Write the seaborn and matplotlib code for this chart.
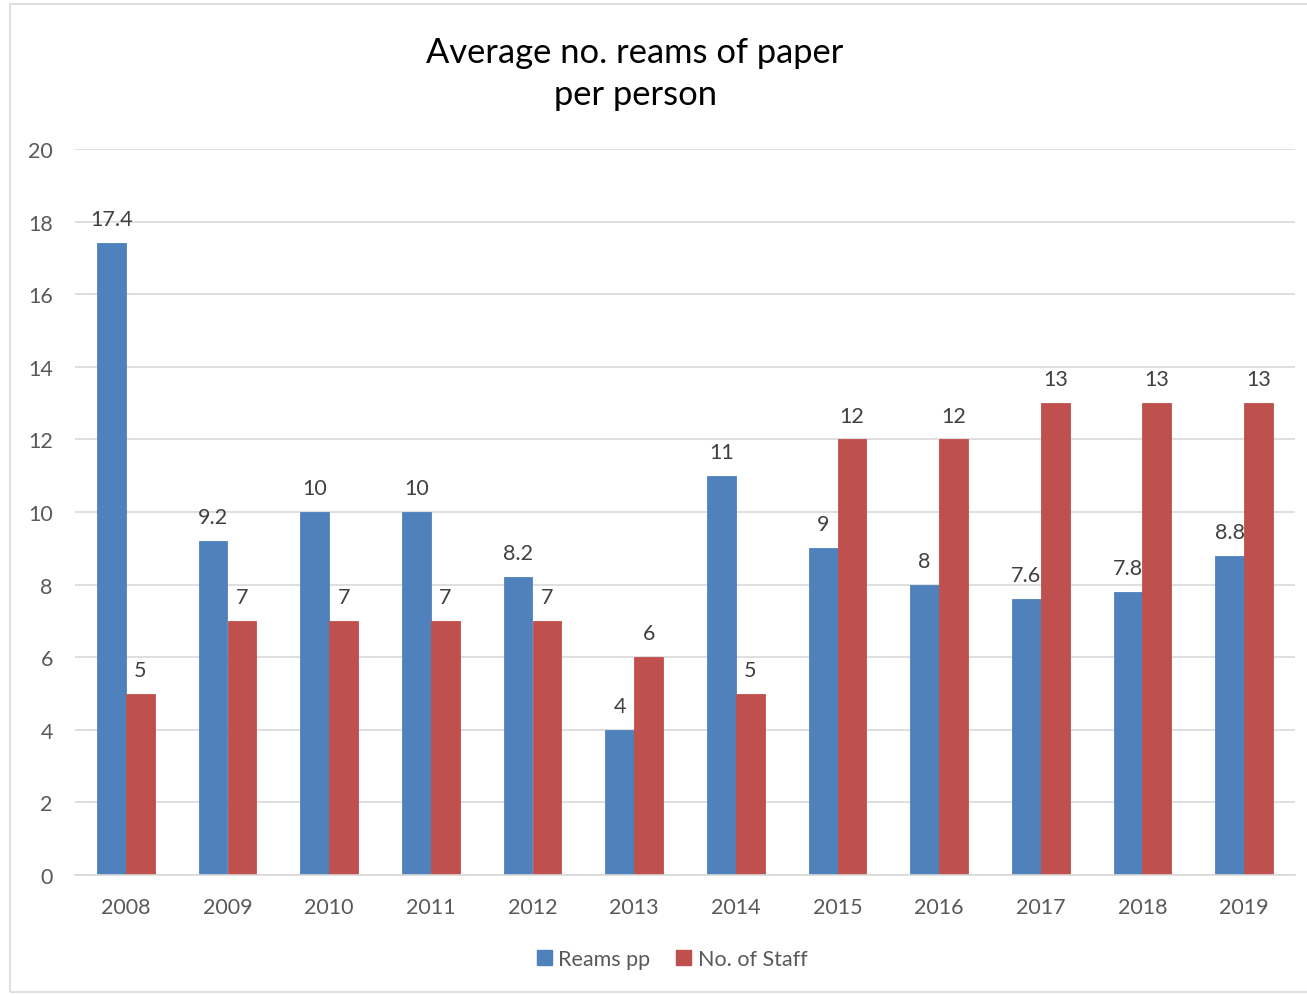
import pandas as pd
import numpy as np
import seaborn as sns
import matplotlib.pyplot as plt

# Chart data
years = ['2008', '2009', '2010', '2011', '2012', '2013',
         '2014', '2015', '2016', '2017', '2018', '2019']
reams_pp = [17.4, 9.2, 10, 10, 8.2, 4, 11, 9, 8, 7.6, 7.8, 8.8]
staff = [5, 7, 7, 7, 7, 6, 5, 12, 12, 13, 13, 13]
series = ['Reams pp', 'No. of Staff']
colors = ['#4F81BD', '#C0504D']

df = pd.DataFrame({
    'Year': years * 2,
    'Value': reams_pp + staff,
    'Series': [series[0]] * len(years) + [series[1]] * len(years),
})

sns.set_style('white')
plt.rcParams['font.family'] = ['Lato', 'DejaVu Sans']
text_color = '#595959'
grid_color = '#D9D9D9'
fs = 15.5

fig = plt.figure(figsize=(13.07, 9.95), dpi=100)
ax = fig.add_axes([75 / 1307, 1 - 876 / 995, 1220 / 1307, 726 / 995])

sns.barplot(data=df, x='Year', y='Value', hue='Series', hue_order=series,
            palette=colors, width=0.57, saturation=1, ax=ax, legend=False)

# Data labels, and close the hairline gap between paired bars
for container, c in zip(ax.containers, colors):
    for bar in container:
        bar.set_edgecolor(c)
        bar.set_linewidth(0.6)
    labels = [f'{v:g}' for v in container.datavalues]
    ax.bar_label(container, labels=labels, padding=10, fontsize=fs,
                 color='#404040')

ax.set_ylim(0, 20)
ax.set_xlim(-0.5, len(years) - 0.5)
ax.set_yticks(np.arange(0, 21, 2))
ax.yaxis.grid(True, color=grid_color, linewidth=1.2)
ax.set_axisbelow(True)
ax.set_xlabel('')
ax.set_ylabel('')

for side in ['top', 'right', 'left']:
    ax.spines[side].set_visible(False)
ax.spines['bottom'].set_color(grid_color)
ax.spines['bottom'].set_linewidth(1.2)

ax.tick_params(axis='y', length=0, pad=16, labelsize=fs, labelcolor=text_color)
ax.tick_params(axis='x', which='major', length=0, pad=16, labelsize=fs,
               labelcolor=text_color)
ax.set_xticks(np.arange(-0.5, len(years), 1), minor=True)
ax.tick_params(axis='x', which='minor', length=7, color=grid_color, width=1.2)

# Title
fig.text(635 / 1307, 1 - 74 / 995, 'Average no. reams of paper\nper person',
         ha='center', va='center', fontsize=24.8, color='#000000',
         linespacing=1.4)

# Legend
handles = [plt.Rectangle((0, 0), 1, 1, color=c) for c in colors]
fig.legend(handles, series, loc='center', bbox_to_anchor=(672 / 1307, 1 - 960 / 995),
           ncol=2, frameon=False, fontsize=fs, labelcolor=text_color,
           handlelength=0.7, handleheight=0.7, handletextpad=0.3,
           columnspacing=1.2)

# Chart border
fig.patches.append(plt.Rectangle((10 / 1307, 1 - 993 / 995), 1.0, 988 / 995,
                                 transform=fig.transFigure, fill=False,
                                 edgecolor='#D9D9D9', linewidth=1.2))

fig.savefig('out.png', dpi=100)
